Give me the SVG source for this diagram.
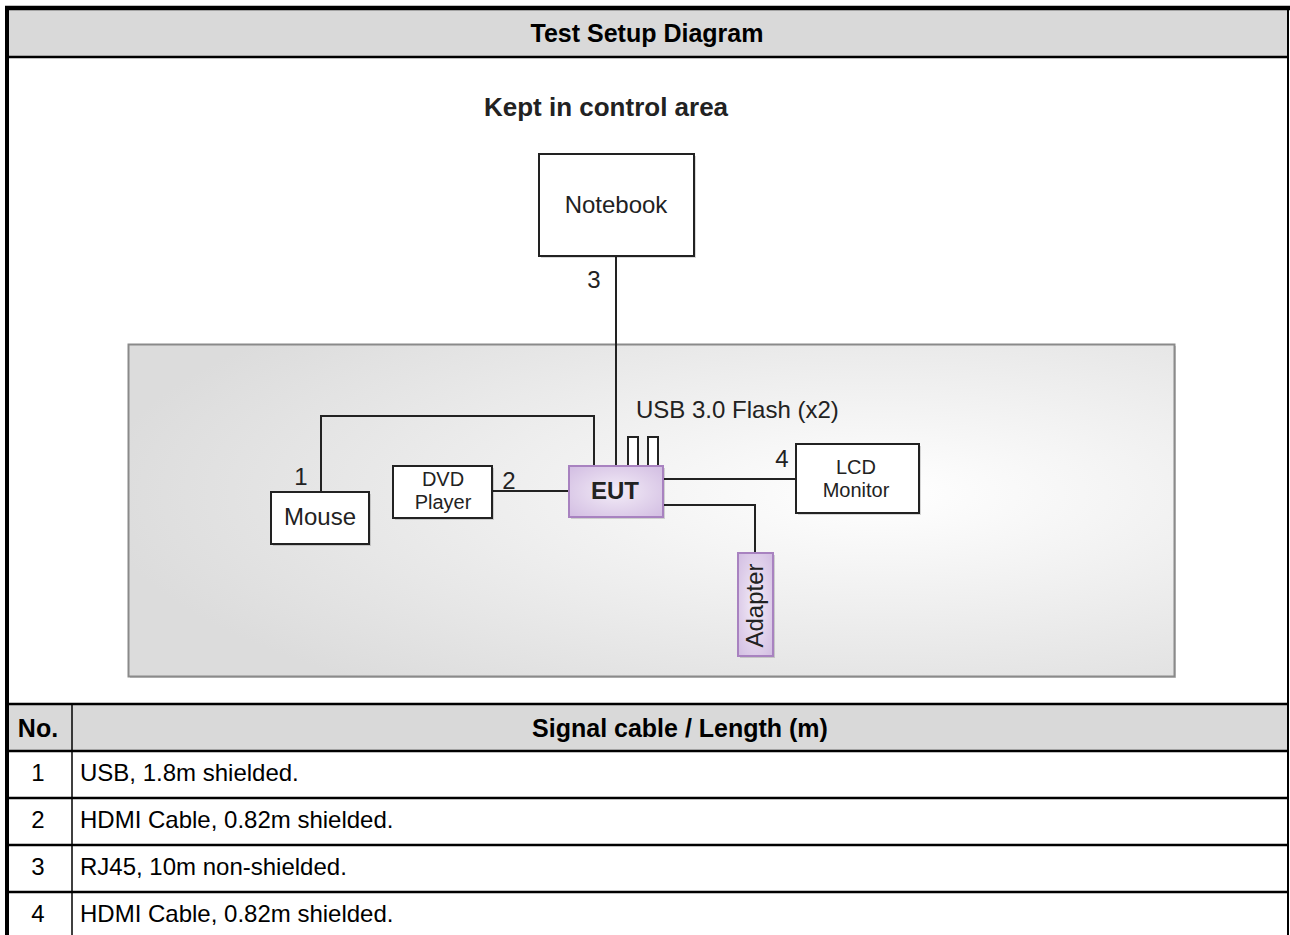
<svg xmlns="http://www.w3.org/2000/svg" width="1290" height="935" viewBox="0 0 1290 935">
<defs>
<style>
.t{font-family:"Liberation Sans",Arial,sans-serif;fill:#000}
.b{font-weight:bold}
.d{font-family:"Liberation Sans",Arial,sans-serif;fill:#222;font-size:24px}
.d2{font-family:"Liberation Sans",Arial,sans-serif;fill:#222;font-size:20px}
.box{fill:#fff;stroke:#222;stroke-width:2}
.sh{fill:#000;opacity:0.15}
.pur{fill:url(#pg);stroke:#a882c0;stroke-width:2}
.w{fill:none;stroke:#222;stroke-width:2}
.tl{stroke:#000;stroke-width:2.5}
</style>
<radialGradient id="bg" cx="0.72" cy="0.45" r="0.75">
<stop offset="0" stop-color="#ffffff"/>
<stop offset="1" stop-color="#dcdcdc"/>
</radialGradient>
<radialGradient id="pg" cx="0.5" cy="0.5" r="0.7">
<stop offset="0" stop-color="#f3ecf7"/>
<stop offset="1" stop-color="#d2bde2"/>
</radialGradient>
</defs>
<g id="table">
<rect x="7" y="8" width="1281" height="50" fill="#d9d9d9"/>
<rect x="7" y="704" width="1281" height="46" fill="#d9d9d9"/>
<line x1="5" y1="8" x2="1290" y2="8" stroke="#000" stroke-width="4.5"/>
<line x1="7" y1="6" x2="7" y2="935" stroke="#000" stroke-width="4"/>
<line x1="1288" y1="8" x2="1288" y2="935" stroke="#000" stroke-width="2"/>
<line x1="7" y1="57" x2="1288" y2="57" class="tl"/>
<line x1="7" y1="704" x2="1288" y2="704" class="tl"/>
<line x1="7" y1="751" x2="1288" y2="751" class="tl"/>
<line x1="7" y1="798" x2="1288" y2="798" class="tl"/>
<line x1="7" y1="845" x2="1288" y2="845" class="tl"/>
<line x1="7" y1="892" x2="1288" y2="892" class="tl"/>
<line x1="72" y1="704" x2="72" y2="935" stroke="#000" stroke-width="1.5"/>
<text class="t b" x="647" y="42" font-size="25" text-anchor="middle">Test Setup Diagram</text>
<text class="t b" x="38" y="737" font-size="25" text-anchor="middle">No.</text>
<text class="t b" x="680" y="737" font-size="25" text-anchor="middle">Signal cable / Length (m)</text>
<text class="t" x="38" y="781" font-size="24" text-anchor="middle">1</text>
<text class="t" x="80" y="781" font-size="24">USB, 1.8m shielded.</text>
<text class="t" x="38" y="828" font-size="24" text-anchor="middle">2</text>
<text class="t" x="80" y="828" font-size="24">HDMI Cable, 0.82m shielded.</text>
<text class="t" x="38" y="875" font-size="24" text-anchor="middle">3</text>
<text class="t" x="80" y="875" font-size="24">RJ45, 10m non-shielded.</text>
<text class="t" x="38" y="922" font-size="24" text-anchor="middle">4</text>
<text class="t" x="80" y="922" font-size="24">HDMI Cable, 0.82m shielded.</text>
</g>
<g id="test-area">
<rect x="130" y="346" width="1046" height="332" fill="#999" opacity="0.5"/>
<rect x="128.5" y="344.5" width="1046" height="332" fill="url(#bg)" stroke="#8a8a8a" stroke-width="2"/>
</g>
<text class="d b" x="606" y="116" style="font-size:26px" text-anchor="middle">Kept in control area</text>
<g id="connectors">
<polyline class="w" points="321,492 321,416 594,416 594,466"/>
<line class="w" x1="616" y1="256" x2="616" y2="466"/>
<line class="w" x1="492" y1="491" x2="569" y2="491"/>
<line class="w" x1="663" y1="479" x2="796" y2="479"/>
<polyline class="w" points="663,505 755,505 755,553"/>
<text class="d" x="594" y="288" text-anchor="middle">3</text>
<text class="d" x="301" y="485" text-anchor="middle">1</text>
<text class="d" x="509" y="489" text-anchor="middle">2</text>
<text class="d" x="782" y="467" text-anchor="middle">4</text>
</g>
<g id="notebook">
<rect class="sh" x="541" y="156" width="155" height="102"/>
<rect class="box" x="539" y="154" width="155" height="102"/>
<text class="d" x="616" y="213" text-anchor="middle">Notebook</text>
</g>
<g id="mouse">
<rect class="sh" x="273" y="494" width="98" height="52"/>
<rect class="box" x="271" y="492" width="98" height="52"/>
<text class="d" x="320" y="525" text-anchor="middle">Mouse</text>
</g>
<g id="dvd">
<rect class="sh" x="395" y="468" width="99" height="52"/>
<rect class="box" x="393" y="466" width="99" height="52"/>
<text class="d2" x="443" y="486" text-anchor="middle">DVD</text>
<text class="d2" x="443" y="509" text-anchor="middle">Player</text>
</g>
<g id="usb-flash">
<rect class="box" x="628" y="437" width="10" height="29"/>
<rect class="box" x="648" y="437" width="10" height="29"/>
<text class="d" x="636" y="418">USB 3.0 Flash (x2)</text>
</g>
<g id="eut">
<rect class="sh" x="571" y="468" width="94" height="51"/>
<rect class="pur" x="569" y="466" width="94" height="51"/>
<text class="d b" x="615" y="499" text-anchor="middle">EUT</text>
</g>
<g id="lcd">
<rect class="sh" x="798" y="446" width="123" height="69"/>
<rect class="box" x="796" y="444" width="123" height="69"/>
<text class="d2" x="856" y="474" text-anchor="middle">LCD</text>
<text class="d2" x="856" y="497" text-anchor="middle">Monitor</text>
</g>
<g id="adapter">
<rect class="sh" x="740" y="555" width="35" height="103"/>
<rect class="pur" x="738" y="553" width="35" height="103"/>
<text class="d" transform="translate(763,605.5) rotate(-90)" text-anchor="middle">Adapter</text>
</g>
</svg>
